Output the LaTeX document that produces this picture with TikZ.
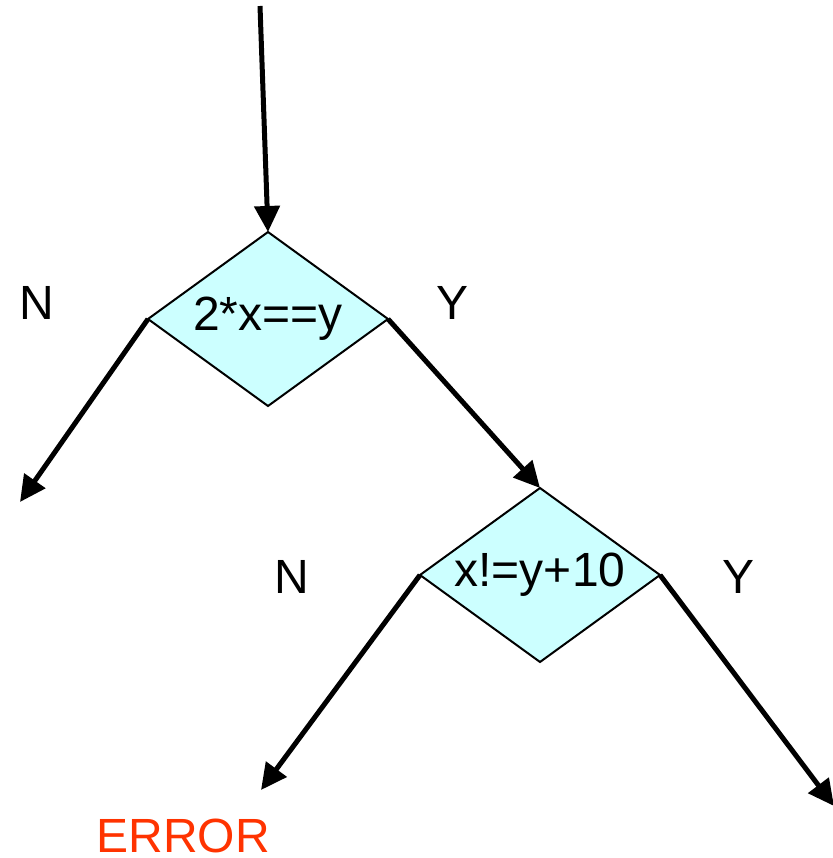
\documentclass[tikz,border=0pt]{standalone}
\usepackage{fontspec}
\setmainfont{Liberation Sans}
\usetikzlibrary{shapes.geometric,arrows.meta}
\definecolor{dfill}{HTML}{CCFFFF}
\definecolor{errc}{HTML}{FF3300}
\begin{document}
\begin{tikzpicture}[x=1pt,y=-1pt,
  decision/.style={diamond,draw=black,line width=2pt,fill=dfill,minimum width=240pt,minimum height=174pt,inner sep=0pt,outer sep=0pt,font=\fontsize{48}{54}\selectfont},
  flow/.style={line width=5pt,-{Triangle[length=26pt,width=25pt]}},
  lbl/.style={font=\fontsize{48}{54}\selectfont,inner sep=0pt}]
\useasboundingbox (0,0) rectangle (832,858);
\node[decision] (d1) at (268,319) {\makebox[0pt]{2*x==y}};
\node[decision] (d2) at (540,575) {\makebox[0pt]{x!=y+10}};
\coordinate (start) at (260,6);
\coordinate (e1) at (20,502);
\coordinate (e2) at (261,790);
\coordinate (e3) at (834,806);
\draw[flow] (start) -- (d1.north);
\draw[flow] (d1.west) -- (e1);
\draw[flow] (d1.east) -- (d2.north);
\draw[flow] (d2.west) -- (e2);
\draw[flow] (d2.east) -- (e3);
\node[lbl] (n1) at (37,303) {N};
\node[lbl] (y1) at (453,303) {Y};
\node[lbl] (n2) at (292,577) {N};
\node[lbl] (y2) at (738,577) {Y};
\node[lbl,text=errc] (err) at (183,836) {ERROR};
\end{tikzpicture}
\end{document}
